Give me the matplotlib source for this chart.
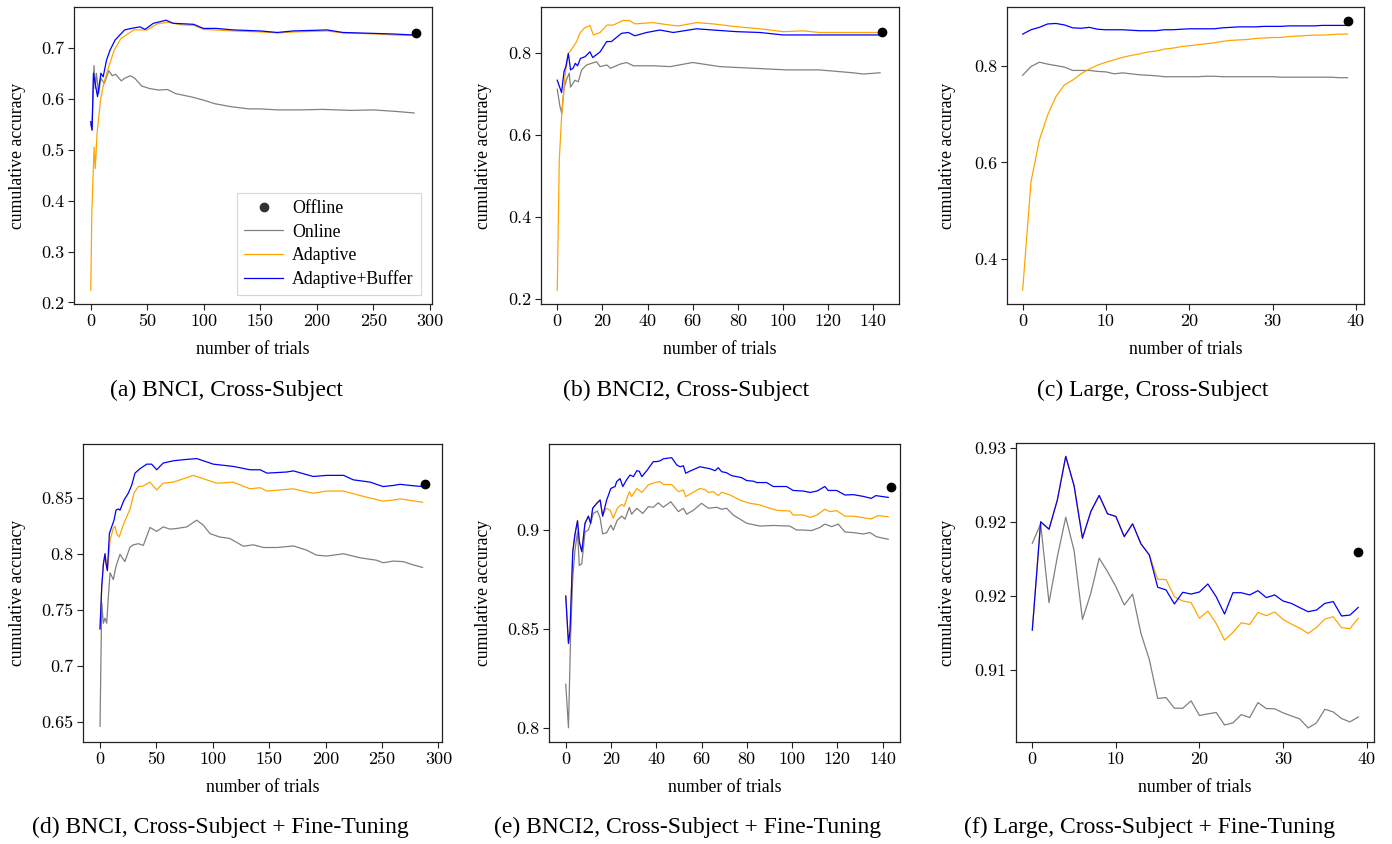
import numpy as np
import matplotlib
matplotlib.use("Agg")
import matplotlib.pyplot as plt
from matplotlib.lines import Line2D

# ── Colours / fonts ─────────────────────────────────────────────────────────
C_ONLINE = "gray"
C_ADAPT = "orange"
C_BUFFER = "blue"
SERIF = "Liberation Serif"
TICKFONT = "cmr10"

W, H = 1392, 844

# ── (a) BNCI, Cross-Subject ─────────────────────────────────────────────────
A_ONLINE_X = [0, 1, 2.9, 4, 5, 7, 9, 12, 16, 19, 22, 27, 30, 35, 39, 45, 52, 60,
              68, 75, 90, 100, 110, 125, 140, 150, 165, 185, 205, 230, 250, 270, 286]
A_ONLINE_Y = [0.55, 0.54, 0.665, 0.62, 0.65, 0.61, 0.64, 0.63, 0.655, 0.645, 0.648,
              0.635, 0.64, 0.645, 0.64, 0.625, 0.62, 0.617, 0.618, 0.61, 0.603, 0.597,
              0.59, 0.584, 0.58, 0.58, 0.578, 0.578, 0.579, 0.577, 0.578, 0.575, 0.572]
A_ADAPT_X = [0, 1, 3, 4, 5.6, 8.6, 11.5, 16, 20.7, 26.6, 38, 50, 59, 68, 80, 91, 100,
             126, 150, 165, 180, 209, 223, 253, 268, 286]
A_ADAPT_Y = [0.224, 0.381, 0.505, 0.463, 0.532, 0.597, 0.630, 0.663, 0.695, 0.718,
             0.735, 0.735, 0.747, 0.750, 0.745, 0.744, 0.736, 0.733, 0.731, 0.729,
             0.731, 0.733, 0.729, 0.727, 0.725, 0.724]
A_BUFFER_X = [0, 1.2, 2.4, 6, 9, 11, 14, 17, 21.5, 27, 30, 36, 43.6, 48, 55.4, 61,
              66.6, 73, 91, 99.6, 111, 126, 150, 165, 179, 209, 223, 253, 268, 286]
A_BUFFER_Y = [0.555, 0.538, 0.65, 0.604, 0.65, 0.643, 0.676, 0.695, 0.715, 0.728,
              0.735, 0.738, 0.741, 0.736, 0.748, 0.751, 0.754, 0.748, 0.746, 0.738,
              0.738, 0.735, 0.733, 0.730, 0.733, 0.735, 0.730, 0.728, 0.727, 0.725]
A_OFFLINE = (288, 0.728)

# ── (b) BNCI2, Cross-Subject ────────────────────────────────────────────────
B_ONLINE_X = [0, 1.2, 2, 3, 4, 5.3, 5.9, 7.8, 9.3, 10.8, 13, 17.4, 19, 22, 23.6, 27.8,
              30.7, 33.7, 42.5, 50, 60, 72, 86.8, 101.6, 116, 131, 135.6, 143]
B_ONLINE_Y = [0.711, 0.669, 0.652, 0.713, 0.733, 0.750, 0.716, 0.733, 0.729, 0.758,
              0.770, 0.778, 0.766, 0.770, 0.762, 0.772, 0.776, 0.768, 0.768, 0.766,
              0.776, 0.766, 0.762, 0.758, 0.758, 0.751, 0.748, 0.751]
B_ADAPT_X = [0, 0.9, 2, 3.4, 4.9, 5.6, 8.6, 10, 12, 14.5, 16, 19, 22, 24.8, 29, 32,
             34.4, 42.5, 50, 53.6, 61.7, 69, 79.5, 89.8, 100, 109, 116, 131, 143]
B_ADAPT_Y = [0.2225, 0.539, 0.652, 0.742, 0.798, 0.802, 0.827, 0.847, 0.860, 0.866,
             0.843, 0.849, 0.867, 0.867, 0.878, 0.878, 0.870, 0.873, 0.867, 0.865,
             0.873, 0.870, 0.863, 0.858, 0.851, 0.853, 0.849, 0.849, 0.849]
B_BUFFER_X = [0, 1.9, 3, 3.8, 4.9, 5.9, 7, 8, 9, 10.3, 12.3, 14.5, 15.7, 19, 21.9, 24,
              28.5, 31.5, 34.4, 39.6, 45.5, 51.4, 61.7, 69, 79.5, 89.8, 100, 116, 143]
B_BUFFER_Y = [0.733, 0.703, 0.754, 0.766, 0.798, 0.758, 0.762, 0.774, 0.768, 0.786,
              0.790, 0.802, 0.788, 0.802, 0.827, 0.827, 0.847, 0.849, 0.841, 0.849,
              0.855, 0.849, 0.858, 0.855, 0.851, 0.849, 0.843, 0.843, 0.843]
B_OFFLINE = (144, 0.851)

# ── (c) Large, Cross-Subject (one value per trial) ──────────────────────────
TRIALS_40 = np.arange(40)
C_ONLINE_Y = [0.780, 0.798, 0.807, 0.803, 0.800, 0.797, 0.790, 0.790, 0.790, 0.788,
              0.787, 0.783, 0.785, 0.783, 0.781, 0.780, 0.779, 0.777, 0.777, 0.777,
              0.777, 0.777, 0.778, 0.778, 0.777, 0.777, 0.777, 0.777, 0.777, 0.777,
              0.777, 0.776, 0.776, 0.776, 0.776, 0.776, 0.776, 0.776, 0.775, 0.775]
C_ADAPT_Y = [0.3365, 0.560, 0.646, 0.698, 0.736, 0.760, 0.770, 0.783, 0.793, 0.801,
             0.807, 0.812, 0.817, 0.821, 0.824, 0.828, 0.830, 0.834, 0.836, 0.839,
             0.841, 0.843, 0.845, 0.847, 0.850, 0.852, 0.853, 0.854, 0.856, 0.857,
             0.858, 0.858, 0.860, 0.861, 0.862, 0.863, 0.863, 0.864, 0.865, 0.865]
C_BUFFER_Y = [0.865, 0.874, 0.879, 0.886, 0.887, 0.884, 0.878, 0.877, 0.879, 0.875,
              0.874, 0.874, 0.874, 0.873, 0.872, 0.872, 0.872, 0.874, 0.874, 0.875,
              0.876, 0.876, 0.876, 0.876, 0.878, 0.879, 0.880, 0.880, 0.880, 0.881,
              0.881, 0.881, 0.882, 0.882, 0.882, 0.882, 0.883, 0.883, 0.883, 0.883]
C_OFFLINE = (39, 0.893)

# ── (d) BNCI, Cross-Subject + Fine-Tuning ───────────────────────────────────
D_ONLINE_X = [0, 1.5, 2.9, 4.4, 5.9, 7.4, 8.9, 11.8, 14.2, 17.7, 22, 26.6, 29.5, 34,
              38.4, 44.3, 50.2, 56, 62, 68, 76.9, 85.7, 91.6, 97.5, 106, 115, 127, 136,
              145, 157, 171.5, 183, 192, 201, 216, 230.6, 245, 251, 260, 269, 278, 286]
D_ONLINE_Y = [0.646, 0.7565, 0.738, 0.7425, 0.738, 0.762, 0.783, 0.777, 0.789, 0.7995,
              0.793, 0.806, 0.808, 0.809, 0.8075, 0.8235, 0.820, 0.824, 0.822, 0.8226,
              0.824, 0.830, 0.8256, 0.818, 0.815, 0.8137, 0.8068, 0.808, 0.8056, 0.8056,
              0.807, 0.8033, 0.7988, 0.798, 0.800, 0.7964, 0.7943, 0.792, 0.7935, 0.793,
              0.790, 0.7878]
D_ADAPT_X = [0, 1.5, 3, 4.4, 6.5, 8.9, 11.8, 13.3, 14.8, 17, 20.7, 26.6, 30, 34, 38.4,
             44.3, 50.2, 56, 65, 74, 82.8, 91.6, 103.5, 118, 133, 142, 148, 171.5, 189,
             201, 216, 230.6, 251, 260, 266, 286]
D_ADAPT_Y = [0.733, 0.7705, 0.791, 0.800, 0.785, 0.812, 0.823, 0.8245, 0.818, 0.815,
             0.826, 0.840, 0.854, 0.860, 0.8605, 0.864, 0.857, 0.863, 0.864, 0.867,
             0.870, 0.867, 0.863, 0.864, 0.858, 0.859, 0.856, 0.858, 0.854, 0.856,
             0.856, 0.852, 0.847, 0.848, 0.849, 0.846]
D_BUFFER_X = [0, 1.5, 3, 4.4, 5.3, 6.5, 8.3, 10.3, 12.4, 14.2, 16.3, 17.7, 21.3, 25, 28,
              31, 35.5, 41.4, 45.8, 50.2, 56, 65, 74, 85.7, 91.6, 100.5, 118, 133, 142,
              148, 165.5, 171.5, 189, 201, 216, 224.6, 239.4, 251, 260, 266, 275, 286]
D_BUFFER_Y = [0.733, 0.7705, 0.791, 0.800, 0.791, 0.785, 0.818, 0.824, 0.830, 0.839,
              0.840, 0.839, 0.848, 0.854, 0.861, 0.872, 0.876, 0.880, 0.880, 0.875,
              0.881, 0.883, 0.884, 0.885, 0.883, 0.880, 0.878, 0.875, 0.875, 0.872,
              0.873, 0.874, 0.869, 0.870, 0.870, 0.866, 0.864, 0.860, 0.861, 0.862,
              0.861, 0.860]
D_OFFLINE = (288, 0.862)

# ── (e) BNCI2, Cross-Subject + Fine-Tuning ──────────────────────────────────
E_ONLINE_X = [0, 1.2, 2.2, 3.1, 4.1, 5.2, 6, 7.1, 8.5, 10, 11, 12.2, 14, 15.2, 16.3,
              18.1, 19.9, 21, 22.8, 24.7, 26.2, 28.1, 29.1, 31.4, 34, 36.5, 38.7, 40.9,
              43.1, 46.4, 49.8, 52, 53.4, 56.4, 60, 63, 66.7, 68.9, 71.1, 74, 77.7, 80,
              85.8, 91.7, 99, 102, 105, 108.6, 112.3, 114.5, 117.5, 120.4, 123.4, 127,
              131.5, 134.4, 137.3, 142.5]
E_ONLINE_Y = [0.822, 0.800, 0.849, 0.876, 0.890, 0.899, 0.882, 0.883, 0.899, 0.900,
              0.9034, 0.9084, 0.9096, 0.906, 0.898, 0.8987, 0.9025, 0.900, 0.905, 0.907,
              0.9055, 0.9115, 0.908, 0.911, 0.9084, 0.9118, 0.9115, 0.9138, 0.9115,
              0.9143, 0.9093, 0.911, 0.908, 0.910, 0.9135, 0.911, 0.9115, 0.9105, 0.911,
              0.9076, 0.905, 0.9034, 0.902, 0.9023, 0.902, 0.900, 0.900, 0.8997, 0.9013,
              0.903, 0.9017, 0.903, 0.899, 0.8987, 0.898, 0.8987, 0.8966, 0.8953]
E_ADAPT_X = [0, 1.2, 1.9, 3.1, 4.1, 5.2, 6, 7.1, 8.5, 10, 11, 11.9, 13.7, 15.2, 16.3,
             17.8, 19.6, 21, 22.8, 24.7, 25.8, 28.1, 29.1, 31.4, 33.6, 36.5, 39.4, 41.7,
             43.1, 46.8, 49.8, 52, 53, 55.6, 59.3, 61.5, 63, 65.2, 67.4, 68.9, 72.6,
             77.7, 81.4, 85.8, 88.8, 93.2, 99, 100.5, 105, 108, 111, 114.5, 116.7, 119.7,
             123.4, 127, 131.5, 135, 138, 142.5]
E_ADAPT_Y = [0.8666, 0.8427, 0.849, 0.889, 0.898, 0.9047, 0.894, 0.889, 0.9034, 0.907,
             0.9034, 0.911, 0.9135, 0.9152, 0.907, 0.911, 0.910, 0.906, 0.911, 0.913,
             0.912, 0.9194, 0.9169, 0.921, 0.919, 0.9228, 0.924, 0.9245, 0.923, 0.923,
             0.9194, 0.9202, 0.9169, 0.9186, 0.921, 0.9205, 0.919, 0.9194, 0.9174,
             0.9191, 0.9177, 0.9148, 0.9135, 0.9127, 0.9115, 0.910, 0.9096, 0.9076,
             0.9076, 0.9064, 0.9076, 0.9105, 0.9093, 0.9098, 0.907, 0.907, 0.9062,
             0.9056, 0.9073, 0.9067]
E_BUFFER_X = [0, 1.2, 1.9, 3.1, 4.1, 5.2, 6, 7.1, 8.5, 10, 11, 11.9, 13.7, 15.2, 16.3,
              18.1, 19.9, 21.8, 22.5, 24, 25.2, 27, 28.4, 29.9, 31.4, 32.5, 33.6, 35.8,
              38.7, 40.2, 41.7, 43.1, 46.8, 49, 50.5, 52, 53, 54.9, 59.3, 63.7, 66,
              67.4, 68.9, 71, 73.3, 77.7, 80, 82.9, 84.4, 88.8, 91.7, 97.6, 100.5, 105,
              108, 111, 114.5, 116, 119.7, 123.4, 127, 131.5, 135, 137, 142.5]
E_BUFFER_Y = [0.8666, 0.8427, 0.849, 0.889, 0.898, 0.9047, 0.894, 0.889, 0.9034, 0.907,
              0.9034, 0.911, 0.9135, 0.9152, 0.907, 0.9152, 0.921, 0.922, 0.9245, 0.926,
              0.922, 0.9256, 0.9278, 0.927, 0.930, 0.9297, 0.927, 0.930, 0.9346, 0.9346,
              0.935, 0.936, 0.9366, 0.933, 0.932, 0.9325, 0.9287, 0.9298, 0.932, 0.931,
              0.930, 0.9315, 0.9295, 0.929, 0.9275, 0.9265, 0.925, 0.9247, 0.924, 0.924,
              0.922, 0.922, 0.920, 0.9197, 0.919, 0.9197, 0.922, 0.920, 0.920, 0.9177,
              0.9179, 0.917, 0.916, 0.9174, 0.9165]
E_OFFLINE = (143.7, 0.922)

# ── (f) Large, Cross-Subject + Fine-Tuning (one value per trial) ────────────
F_ONLINE_Y = [0.91857, 0.91988, 0.91456, 0.91767, 0.92033, 0.91808, 0.91343, 0.91519,
              0.91756, 0.91666, 0.91564, 0.91440, 0.91514, 0.91248, 0.91072, 0.90809,
              0.90815, 0.90743, 0.90743, 0.90793, 0.90694, 0.90705, 0.90714, 0.90630,
              0.90644, 0.90700, 0.90680, 0.90781, 0.90741, 0.90739, 0.90712, 0.90691,
              0.90671, 0.90610, 0.90644, 0.90736, 0.90718, 0.90673, 0.90651, 0.90684]
F_ADAPT_Y = [0.91271, 0.92002, 0.91952, 0.92150, 0.92444, 0.92245, 0.91891, 0.92071,
             0.92180, 0.92056, 0.92038, 0.91902, 0.91988, 0.91853, 0.91778, 0.91614,
             0.91612, 0.91496, 0.91467, 0.91456, 0.91350, 0.91399, 0.91316, 0.91203,
             0.91255, 0.91320, 0.91309, 0.91390, 0.91368, 0.91393, 0.91343, 0.91311,
             0.91284, 0.91248, 0.91289, 0.91345, 0.91361, 0.91287, 0.91280, 0.91350]
F_BUFFER_Y = [0.91271, 0.92002, 0.91952, 0.92150, 0.92444, 0.92245, 0.91891, 0.92071,
              0.92180, 0.92056, 0.92038, 0.91902, 0.91988, 0.91853, 0.91778, 0.91560,
              0.91542, 0.91447, 0.91526, 0.91514, 0.91528, 0.91582, 0.91496, 0.91379,
              0.91523, 0.91523, 0.91508, 0.91537, 0.91490, 0.91508, 0.91467, 0.91451,
              0.91422, 0.91395, 0.91406, 0.91451, 0.91463, 0.91366, 0.91372, 0.91424]
F_OFFLINE = (39, 0.91801)

# ── Ticks ───────────────────────────────────────────────────────────────────
X_TICKS_300 = [0, 50, 100, 150, 200, 250, 300]
X_TICKS_140 = [0, 20, 40, 60, 80, 100, 120, 140]
X_TICKS_40 = [0, 10, 20, 30, 40]
A_YTICKS = [0.2, 0.3, 0.4, 0.5, 0.6, 0.7]
A_YLABELS = ["0.2", "0.3", "0.4", "0.5", "0.6", "0.7"]
B_YTICKS = [0.2, 0.4, 0.6, 0.8]
B_YLABELS = ["0.2", "0.4", "0.6", "0.8"]
C_YTICKS = [0.4, 0.6, 0.8]
C_YLABELS = ["0.4", "0.6", "0.8"]
D_YTICKS = [0.65, 0.7, 0.75, 0.8, 0.85]
D_YLABELS = ["0.65", "0.7", "0.75", "0.8", "0.85"]
E_YTICKS = [0.8, 0.85, 0.9]
E_YLABELS = ["0.8", "0.85", "0.9"]
F_YTICKS = [0.91, 0.915, 0.92, 0.925]
F_YLABELS = ["0.91", "0.92", "0.92", "0.93"]

CAPTIONS = ["(a) BNCI, Cross-Subject", "(b) BNCI2, Cross-Subject",
            "(c) Large, Cross-Subject", "(d) BNCI, Cross-Subject + Fine-Tuning",
            "(e) BNCI2, Cross-Subject + Fine-Tuning",
            "(f) Large, Cross-Subject + Fine-Tuning"]

# ── Layout (pixels) ─────────────────────────────────────────────────────────
BOXES = [(74, 7, 432, 304), (541, 7, 899, 304), (1007, 7, 1364, 304),
         (83, 444, 442, 742), (549, 444, 900, 742), (1016, 443, 1374, 742)]
LIMITS = [((-14.8, 301.8), (0.197, 0.78)), ((-7.2, 151.4), (0.1886, 0.911)),
          ((-1.88, 40.97), (0.3076, 0.921)), ((-15.1, 303.2), (0.632, 0.898)),
          ((-7.4, 147.7), (0.7928, 0.9435)), ((-1.95, 40.88), (0.90515, 0.92534))]
YLABEL_X = [18, 484, 948, 18, 484, 948]
XLABEL_Y = [350, 350, 350, 787, 787, 787]
CAPTION_POS = [(226, 390), (686, 390), (1153, 390), (220, 827), (688, 827), (1150, 827)]


def fx(px):
    return px / W


def fy(py):
    return 1 - py / H


def draw_panel(fig, i, online, adapt, buffer, offline, xticks, yticks, ylabels):
    l, t, r, b = BOXES[i]
    ax = fig.add_axes([fx(l), fy(b), (r - l) / W, (b - t) / H])
    lw = 0.9
    ax.plot(*online, color=C_ONLINE, lw=lw)
    ax.plot(*adapt, color=C_ADAPT, lw=lw)
    ax.plot(*buffer, color=C_BUFFER, lw=lw)
    ax.plot([offline[0]], [offline[1]], "o", color="black", ms=6)
    ax.set_xlim(*LIMITS[i][0])
    ax.set_ylim(*LIMITS[i][1])
    ax.set_xticks(xticks)
    ax.set_xticklabels([str(v) for v in xticks], fontfamily=TICKFONT, fontsize=13)
    ax.set_yticks(yticks)
    ax.set_yticklabels(ylabels, fontfamily=TICKFONT, fontsize=13)
    ax.tick_params(direction="out", length=4, width=0.8, color="#222222", pad=3,
                   top=False, right=False)
    for sp in ax.spines.values():
        sp.set_linewidth(0.9)
        sp.set_color("#222222")

    fig.text(fx(YLABEL_X[i]), fy((t + b) / 2), "cumulative accuracy", rotation=90,
             ha="center", va="center", fontfamily=SERIF, fontsize=12.8)
    fig.text(fx((l + r) / 2), fy(XLABEL_Y[i]), "number of trials", ha="center",
             va="center", fontfamily=SERIF, fontsize=12.8)
    cx, cy = CAPTION_POS[i]
    fig.text(fx(cx), fy(cy), CAPTIONS[i], ha="center", va="center",
             fontfamily=SERIF, fontsize=17)
    return ax


def main():
    fig = plt.figure(figsize=(W / 100, H / 100), dpi=100)

    ax_a = draw_panel(fig, 0, (A_ONLINE_X, A_ONLINE_Y), (A_ADAPT_X, A_ADAPT_Y),
                      (A_BUFFER_X, A_BUFFER_Y), A_OFFLINE, X_TICKS_300, A_YTICKS, A_YLABELS)
    draw_panel(fig, 1, (B_ONLINE_X, B_ONLINE_Y), (B_ADAPT_X, B_ADAPT_Y),
               (B_BUFFER_X, B_BUFFER_Y), B_OFFLINE, X_TICKS_140, B_YTICKS, B_YLABELS)
    draw_panel(fig, 2, (TRIALS_40, C_ONLINE_Y), (TRIALS_40, C_ADAPT_Y),
               (TRIALS_40, C_BUFFER_Y), C_OFFLINE, X_TICKS_40, C_YTICKS, C_YLABELS)
    draw_panel(fig, 3, (D_ONLINE_X, D_ONLINE_Y), (D_ADAPT_X, D_ADAPT_Y),
               (D_BUFFER_X, D_BUFFER_Y), D_OFFLINE, X_TICKS_300, D_YTICKS, D_YLABELS)
    draw_panel(fig, 4, (E_ONLINE_X, E_ONLINE_Y), (E_ADAPT_X, E_ADAPT_Y),
               (E_BUFFER_X, E_BUFFER_Y), E_OFFLINE, X_TICKS_140, E_YTICKS, E_YLABELS)
    draw_panel(fig, 5, (TRIALS_40, F_ONLINE_Y), (TRIALS_40, F_ADAPT_Y),
               (TRIALS_40, F_BUFFER_Y), F_OFFLINE, X_TICKS_40, F_YTICKS, F_YLABELS)

    # legend only in panel (a)
    handles = [
        Line2D([], [], ls="none", marker="o", color="#333333", ms=6),
        Line2D([], [], color=C_ONLINE, lw=0.9),
        Line2D([], [], color=C_ADAPT, lw=0.9),
        Line2D([], [], color=C_BUFFER, lw=0.9),
    ]
    leg = ax_a.legend(handles, ["Offline", "Online", "Adaptive", "Adaptive+Buffer"],
                      loc="lower right", bbox_to_anchor=(0.969, 0.03),
                      prop={"family": SERIF, "size": 12.8}, frameon=True,
                      fancybox=False, borderpad=0.4, labelspacing=0.35,
                      handlelength=2.2, handletextpad=0.5, borderaxespad=0)
    leg.get_frame().set_edgecolor("#cccccc")
    leg.get_frame().set_linewidth(0.8)

    fig.savefig("out.png", dpi=100)
    plt.close(fig)


if __name__ == "__main__":
    main()
